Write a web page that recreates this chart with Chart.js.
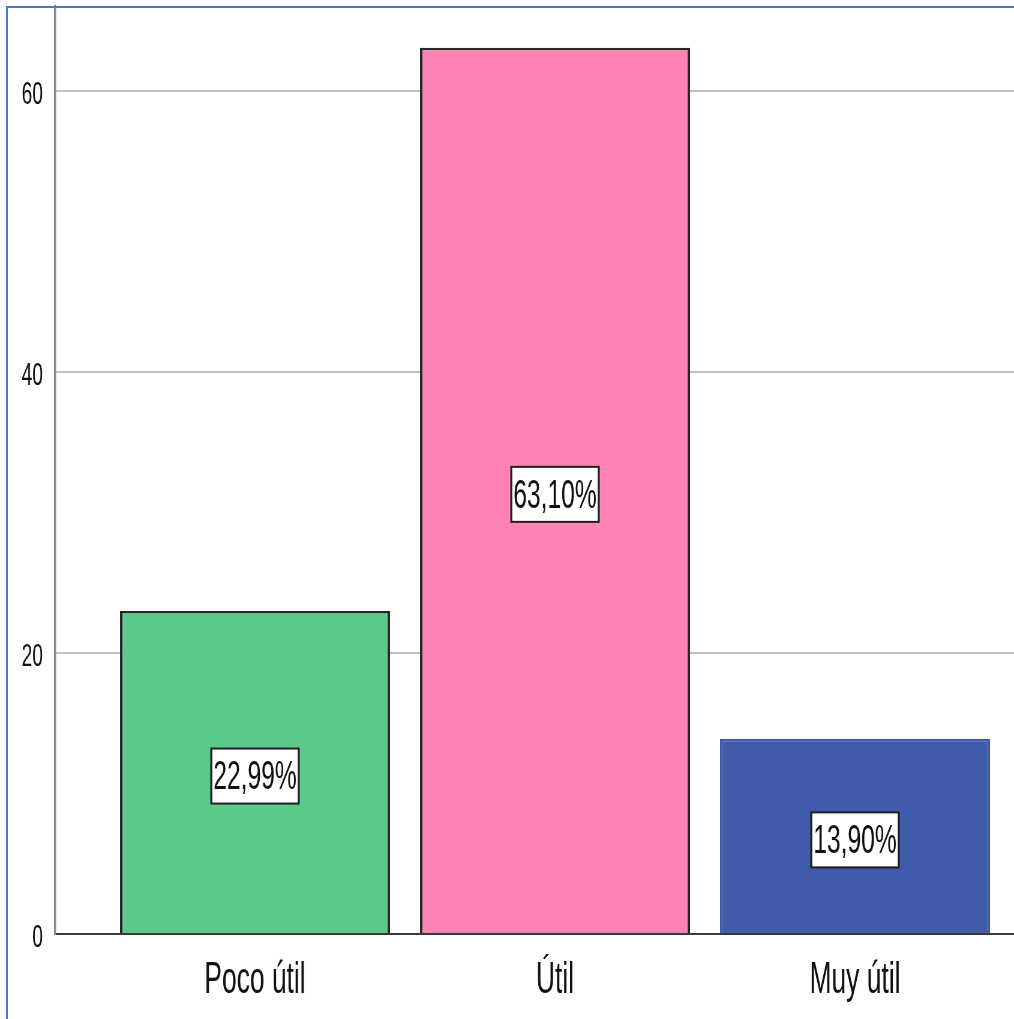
<!DOCTYPE html>
<html>
<head>
<meta charset="utf-8">
<script src="https://cdn.jsdelivr.net/npm/chart.js@4/dist/chart.umd.min.js"></script>
<style>
  html, body { margin: 0; padding: 0; overflow: hidden; background: #fff; width: 1014px; height: 1019px; }
  #wrap { position: relative; width: 1014px; height: 1019px; overflow: hidden; }
  /* the chart is laid out wide and squeezed horizontally, giving the narrow lettering */
  #chart { position: absolute; left: 0; top: 0; transform-origin: 0 0; }
  #frame { position: absolute; left: 6px; top: 6px; right: -10px; bottom: -10px;
           border-left: 2px solid #4a78cc; border-top: 2px solid #4a78cc; pointer-events: none; }
</style>
</head>
<body>
<div id="wrap">
  <canvas id="chart"></canvas>
  <div id="frame"></div>
</div>
<script>
// ---- data ----
const categories  = ['Poco útil', 'Útil', 'Muy útil'];
const percentages = [22.99, 63.10, 13.90];
const yTicks      = [0, 20, 40, 60];
const barColors   = ['#5bc98b', '#fe82b4', '#3f5ba9'];
const edgeColors  = ['#262626', '#262626', '#3f5ba9'];

// ---- geometry ----
const SX = 0.6;                       // horizontal squeeze of the canvas
const PAGE_W = 1014, PAGE_H = 1019;
const CANVAS_W = Math.round(PAGE_W / SX);

const canvas = document.getElementById('chart');
canvas.width = CANVAS_W;
canvas.height = PAGE_H;
canvas.style.transform = 'scaleX(' + SX + ')';

const FONT = '"Liberation Sans", Arial, sans-serif';
const fmtPct = v => v.toFixed(2).replace('.', ',') + '%';

// white boxes with the percentage, centred on each bar
const valueBoxes = {
  id: 'valueBoxes',
  afterDatasetsDraw(chart) {
    const ctx = chart.ctx;
    const meta = chart.getDatasetMeta(0);
    ctx.save();
    ctx.font = '41px ' + FONT;
    ctx.textAlign = 'center';
    ctx.textBaseline = 'middle';
    meta.data.forEach((bar, i) => {
      const text = fmtPct(percentages[i]);
      const cx = bar.x;
      const cy = (bar.y + bar.base) / 2 + 4;
      const w = ctx.measureText(text).width + 10;
      const h = 57;
      ctx.fillStyle = '#1e1e1e';
      ctx.fillRect(cx - w / 2, cy - h / 2, w, h);
      ctx.fillStyle = '#ffffff';
      ctx.fillRect(cx - w / 2 + 2 / SX, cy - h / 2 + 2, w - 4 / SX, h - 4);
      ctx.fillStyle = '#111111';
      ctx.fillText(text, cx, cy + 2);
    });
    ctx.restore();
  }
};

new Chart(canvas, {
  type: 'bar',
  data: {
    datasets: [{
      data: categories.map((c, i) => ({ x: i + 1, y: percentages[i] })),
      backgroundColor: barColors,
      borderColor: edgeColors,
      borderWidth: { top: 2.5, left: 2.5 / SX, right: 2.5 / SX, bottom: 0 },
      borderSkipped: false,
      barPercentage: 0.9,
      categoryPercentage: 1.0
    }]
  },
  options: {
    responsive: false,
    animation: false,
    devicePixelRatio: 1,
    layout: { padding: { top: 7, left: 0, right: 0, bottom: 0 } },
    plugins: { legend: { display: false }, tooltip: { enabled: false } },
    scales: {
      x: {
        type: 'linear',
        offset: false,
        bounds: 'data',
        min: 1 / 3,
        max: 1 / 3 + 959 / 300,
        afterBuildTicks: s => { s.ticks = categories.map((c, i) => ({ value: i + 1 })); },
        afterFit: s => { s.height = PAGE_H - 934; s.paddingLeft = 0; s.paddingRight = 0; },
        ticks: {
          autoSkip: false,
          maxRotation: 0,
          minRotation: 0,
          padding: 12,
          color: '#111',
          font: { family: FONT, size: 44 },
          callback: v => categories[Math.round(v) - 1] || ''
        },
        grid: { display: false, offset: false },
        border: { display: true, color: '#3a3a3a', width: 2 }
      },
      y: {
        min: 0,
        max: 66,
        afterBuildTicks: s => { s.ticks = yTicks.map(v => ({ value: v })); },
        afterFit: s => { s.width = 55 / SX; s.paddingTop = 0; s.paddingBottom = 0; },
        ticks: {
          padding: 20,
          labelOffset: 4,
          color: '#111',
          font: { family: FONT, size: 32 }
        },
        grid: { color: '#c0c0c0', lineWidth: 2, drawTicks: false },
        border: { display: true, color: '#8c8c8c', width: 3.5 }
      }
    }
  },
  plugins: [valueBoxes]
});
</script>
</body>
</html>
